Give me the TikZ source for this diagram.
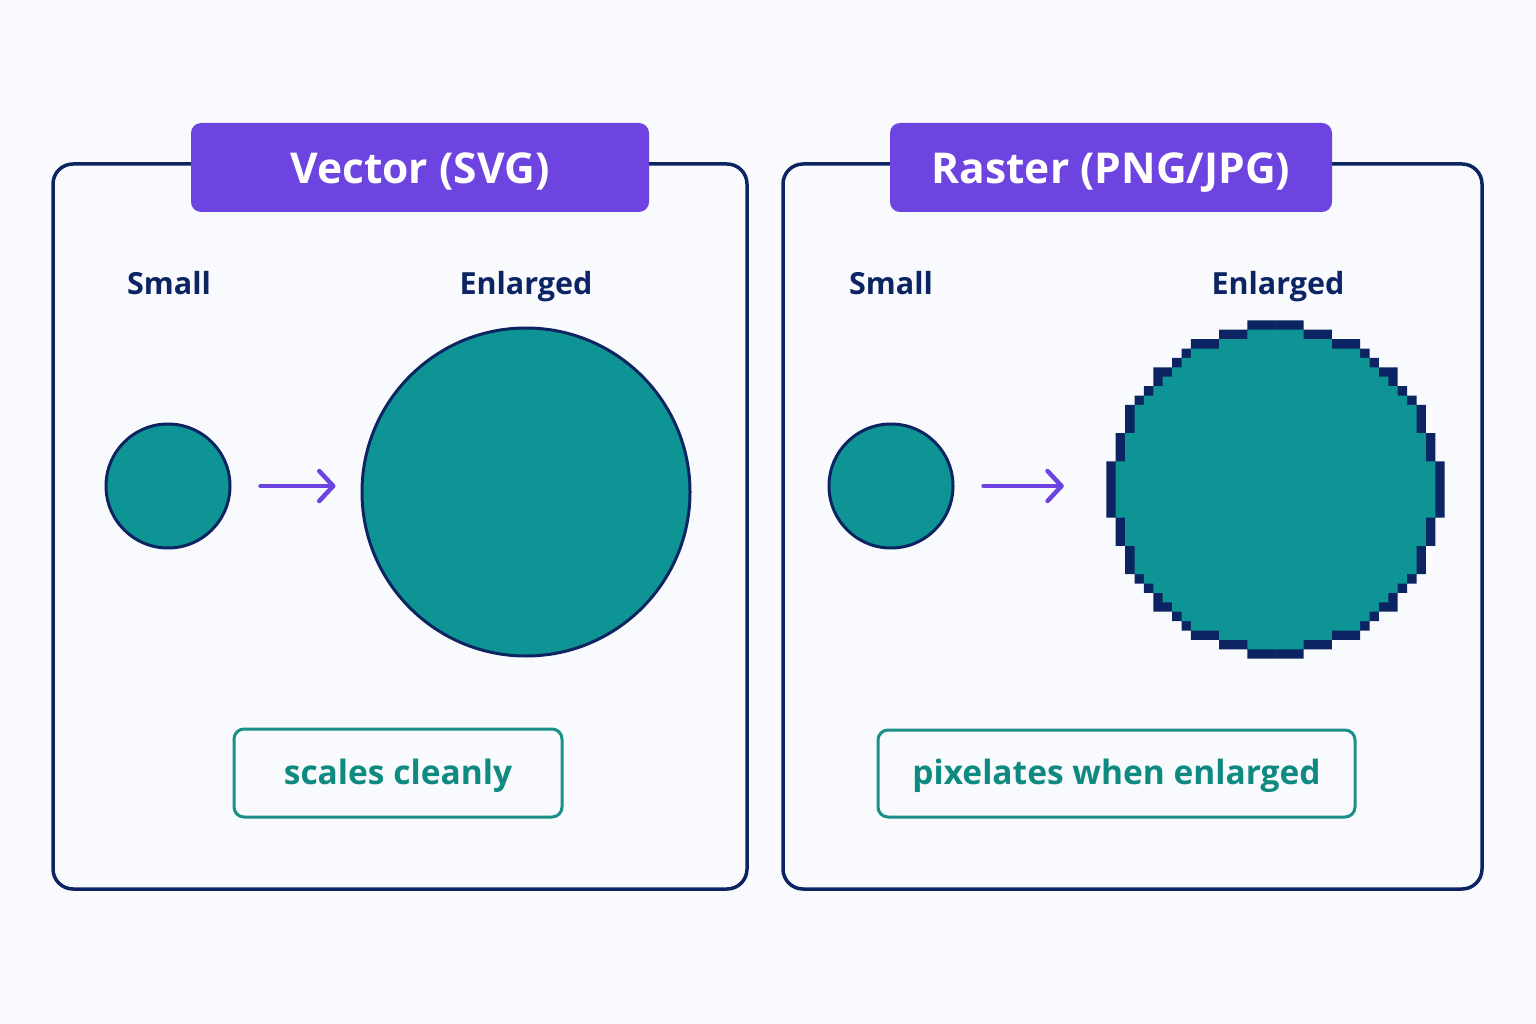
\documentclass[tikz,border=0pt]{standalone}
\usepackage{fontspec}
\setmainfont{Open Sans}
\usetikzlibrary{arrows.meta}
\definecolor{bgc}{HTML}{F8FAFD}
\definecolor{navy}{HTML}{0C2461}
\definecolor{purp}{HTML}{6E44E0}
\definecolor{tealf}{HTML}{0E9494}
\definecolor{tealt}{HTML}{0E8A80}
\definecolor{tealb}{HTML}{1A9088}
\def\Rc{17.71}
\def\cellsz{9.4}
\pgfmathdeclarefunction{ncells}{1}{%
  \begingroup
  \pgfmathparse{floor(sqrt(max(\Rc*\Rc-(#1)*(#1),0))+0.5)}%
  \pgfmathsmuggle\pgfmathresult
  \endgroup}
\tikzset{
  panel/.style={draw=navy, line width=3.5pt, rounded corners=20pt, fill=bgc, inner sep=0pt},
  titlebox/.style={fill=purp, rounded corners=10pt, text=white, font=\fontsize{42.5}{50}\selectfont\bfseries, inner sep=0pt, text height=33pt, text depth=0pt},
  lbl/.style={text=navy, font=\fontsize{30.5}{36}\selectfont\bfseries, inner sep=0pt, text height=21.8pt, text depth=0pt},
  disc/.style={circle, draw=navy, fill=tealf, line width=3pt, inner sep=0pt},
  note/.style={draw=tealb, line width=3pt, rounded corners=10pt, fill=bgc, text=tealt, font=\fontsize{33.5}{40}\selectfont\bfseries, inner sep=0pt, text height=22pt, text depth=0pt},
  growarrow/.style={draw=purp, line width=4.5pt, line cap=round, -{Straight Barb[length=14pt,width=30pt,line cap=round,line join=round]}}
}
\begin{document}
\begin{tikzpicture}[x=1pt,y=-1pt]
\fill[bgc] (0,0) rectangle (1536,1024);
\useasboundingbox (0,0) rectangle (1536,1024);
% panels
\node[panel, minimum width=694pt, minimum height=725pt] (pl) at (400,526.5) {};
\node[panel, minimum width=699pt, minimum height=725pt] (pr) at (1132.5,526.5) {};
% titles
\node[titlebox, minimum width=458pt, minimum height=89pt] (tl) at (420,167.5) {Vector (SVG)};
\node[titlebox, minimum width=442pt, minimum height=89pt] (tr) at (1111,167.5) {Raster (PNG/JPG)};
% labels
\node[lbl] (sl) at (169,283.5) {Small};
\node[lbl] (el) at (526,283.5) {Enlarged};
\node[lbl] (sr) at (891,283.5) {Small};
\node[lbl] (er) at (1278,283.5) {Enlarged};
% circles
\node[disc, minimum size=124pt] (cl) at (168,486) {};
\node[disc, minimum size=328pt] (bl) at (526,492) {};
\node[disc, minimum size=124pt] (cr) at (891,486) {};
% pixelated circle
\node[circle, minimum size=339pt, inner sep=0pt] (br) at (1275.5,489.5) {};
\begin{scope}[shift={(br.center)}]
\fill[navy] \foreach \j [evaluate=\j as \n using {int(ncells(\j+0.5))}] in {-18,...,17}{
  ({-\n*\cellsz},{\j*\cellsz}) rectangle ({\n*\cellsz},{(\j+1)*\cellsz})
};
\fill[tealf] \foreach \j [evaluate=\j as \m using {int(min(ncells(\j+0.5)-1,ncells(\j-0.5),ncells(\j+1.5)))}] in {-18,...,17}{
  ({-\m*\cellsz},{\j*\cellsz}) rectangle ({\m*\cellsz},{(\j+1)*\cellsz})
};
\end{scope}
% arrows
\draw[growarrow, shorten <=29pt, shorten >=25pt] (cl.east) -- (cl.east -| bl.west);
\draw[growarrow, shorten <=29pt, shorten >=42pt] (cr.east) -- (cr.east -| br.west);
% notes
\node[note, minimum width=328pt, minimum height=88pt] (nl) at (398,773) {scales cleanly};
\node[note, minimum width=477pt, minimum height=87pt] (nr) at (1116.5,773.5) {pixelates when enlarged};
\end{tikzpicture}
\end{document}
